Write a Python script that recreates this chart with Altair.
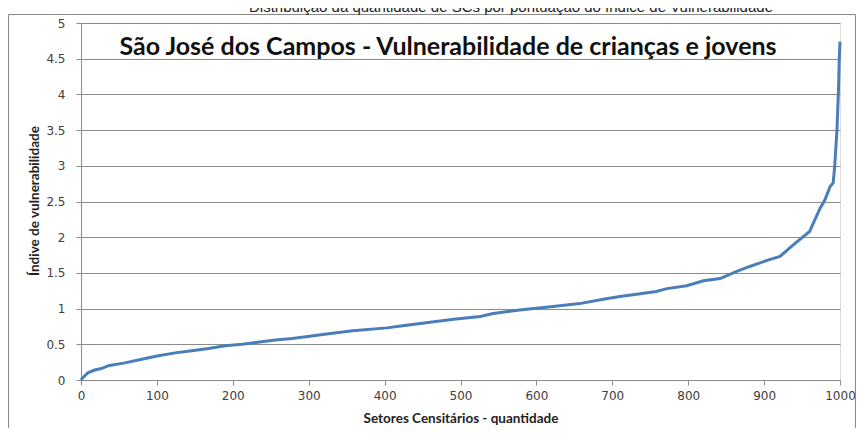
import altair as alt
import pandas as pd

# Values
setores = [0, 3, 9, 18, 27, 36, 58, 80, 102, 124, 146, 168, 190, 212, 233, 256, 278, 299,
           321, 358, 403, 424, 447, 491, 526, 543, 578, 622, 657, 688, 710, 732, 758, 772,
           798, 820, 842, 864, 881, 908, 921, 938, 960, 965, 974, 980, 987, 991, 993, 996,
           998, 999, 1000]
indice = [0, 0.04, 0.1, 0.14, 0.16, 0.2, 0.24, 0.29, 0.34, 0.38, 0.41, 0.44, 0.48, 0.5,
          0.53, 0.56, 0.58, 0.61, 0.64, 0.69, 0.73, 0.76, 0.79, 0.85, 0.89, 0.93, 0.98,
          1.03, 1.07, 1.13, 1.17, 1.2, 1.24, 1.28, 1.32, 1.39, 1.42, 1.52, 1.59, 1.69,
          1.73, 1.89, 2.08, 2.2, 2.41, 2.52, 2.71, 2.76, 2.99, 3.5, 4.06, 4.48, 4.74]
x_ticks = [0, 100, 200, 300, 400, 500, 600, 700, 800, 900, 1000]
y_ticks = [0, 0.5, 1, 1.5, 2, 2.5, 3, 3.5, 4, 4.5, 5]

titulo_externo = "Distribuição da quantidade de SCs por pontuação do índice de Vulnerabilidade"
titulo_interno = "São José dos Campos - Vulnerabilidade de crianças e jovens"

df = pd.DataFrame({"setores": setores, "indice": indice})

W, H = 759, 357
GRID = "#8c8c8c"

line = alt.Chart(df).mark_line(color="#4a7ebb", strokeWidth=3).encode(
    x=alt.X("setores:Q",
            scale=alt.Scale(domain=[0, 1000], nice=False),
            axis=alt.Axis(values=x_ticks, grid=False, tickSize=5, tickColor=GRID,
                          domainColor=GRID, labelFont="DejaVu Sans", labelFontSize=12,
                          labelColor="#404040", labelPadding=5, labelFlush=False,
                          format="d",
                          title="Setores Censitários - quantidade",
                          titleFont="Lato", titleFontSize=13.5, titleFontWeight="bold",
                          titleColor="#222222", titleX=W / 2, titleY=38,
                          titleBaseline="middle", titleAlign="center")),
    y=alt.Y("indice:Q",
            scale=alt.Scale(domain=[0, 5], nice=False),
            axis=alt.Axis(values=y_ticks, grid=True, gridColor=GRID, tickSize=5,
                          tickColor=GRID, domainColor=GRID, labelFont="DejaVu Sans",
                          labelFontSize=12, labelColor="#404040", labelPadding=11,
                          labelExpr="datum.value + ''",
                          title="Índive de vulnerabilidade",
                          titleFont="Lato", titleFontSize=13.5, titleFontWeight="bold",
                          titleColor="#222222", titleX=-47, titleY=H / 2 - 1,
                          titleAngle=-90, titleBaseline="middle", titleAlign="center")),
)

one = alt.Data(values=[{}])

frame = alt.Chart(one).mark_rect(filled=False, stroke="#8a8a8a", strokeWidth=1).encode(
    x=alt.value(-72.5), x2=alt.value(774.5), y=alt.value(-8.5), y2=alt.value(440)
)

outer_title = alt.Chart(one).mark_text(
    font="Liberation Sans", fontSize=15, color="#222222", align="center",
    baseline="alphabetic"
).encode(x=alt.value(430), y=alt.value(-11), text=alt.value(titulo_externo))

inner_title = alt.Chart(one).mark_text(
    font="Lato", fontSize=25, fontWeight="bold", color="#111111", align="center",
    baseline="middle"
).encode(x=alt.value(367), y=alt.value(24), text=alt.value(titulo_interno))

chart = alt.layer(frame, line, outer_title, inner_title).properties(
    width=W, height=H,
    autosize=alt.AutoSizeParams(type="none"),
    padding={"left": 73, "top": 15, "right": 16, "bottom": 48},
).configure_view(stroke=None).configure(background="white")

chart.save("out.html", embed_options={"renderer": "svg", "actions": False})
